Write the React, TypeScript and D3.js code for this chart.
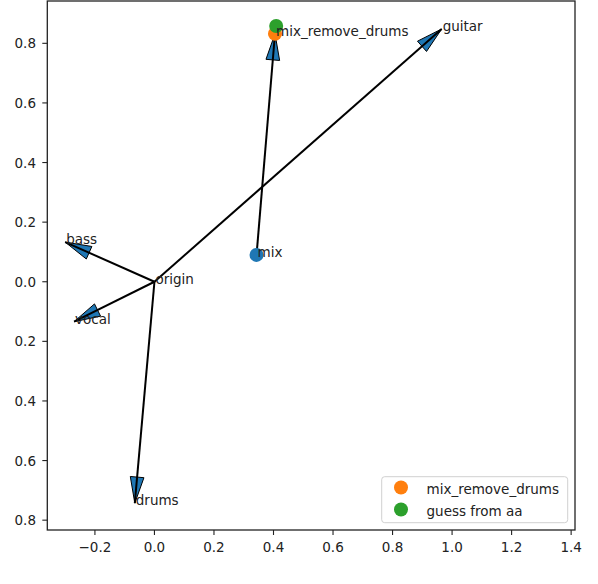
import React from "react";
import * as d3 from "d3";

// ---- data ----
const originPoint = [0, 0];
const vectorNames = ["bass", "vocal", "drums", "guitar"];
const vectorX = [-0.3, -0.27, -0.066, 0.965];
const vectorY = [0.133, -0.134, -0.743, 0.848];
const mixPoint = [0.343, 0.09];
const mixRemovePoint = [0.405, 0.832];
const guessPoint = [0.409, 0.858];
const xTicks = [-0.2, 0, 0.2, 0.4, 0.6, 0.8, 1.0, 1.2, 1.4];
const xTickLabels = ["\u22120.2", "0.0", "0.2", "0.4", "0.6", "0.8", "1.0", "1.2", "1.4"];
const yTicks = [0.8, 0.6, 0.4, 0.2, 0, -0.2, -0.4, -0.6, -0.8];
const yTickLabels = ["0.8", "0.6", "0.4", "0.2", "0.0", "0.2", "0.4", "0.6", "0.8"];
const legendLabels = ["mix_remove_drums", "guess from aa"];

const W = 598;
const H = 584;
const FONT = "'DejaVu Sans', sans-serif";
const FS = 13.5;
const BLUE = "#1f77b4";
const ORANGE = "#ff7f0e";
const GREEN = "#2ca02c";

export default function App() {
  const x = d3.scaleLinear().domain([-0.36, 1.413]).range([47.3, 575]);
  const y = d3.scaleLinear().domain([-0.833, 0.942]).range([530, 1]);
  const headLen = 0.088 * (x(1) - x(0));
  const headW = 0.046 * (x(1) - x(0));

  const arrows: { sx: number; sy: number; ex: number; ey: number }[] = [];
  vectorNames.forEach((_, i) => {
    arrows.push({ sx: x(originPoint[0]), sy: y(originPoint[1]), ex: x(vectorX[i]), ey: y(vectorY[i]) });
  });
  arrows.push({ sx: x(mixPoint[0]), sy: y(mixPoint[1]), ex: x(mixRemovePoint[0]), ey: y(mixRemovePoint[1]) });

  const headPath = (a: { sx: number; sy: number; ex: number; ey: number }) => {
    const dx = a.ex - a.sx;
    const dy = a.ey - a.sy;
    const len = Math.hypot(dx, dy);
    const ux = dx / len;
    const uy = dy / len;
    const bx = a.ex - ux * headLen;
    const by = a.ey - uy * headLen;
    const px = -uy * headW / 2;
    const py = ux * headW / 2;
    return `M${a.ex},${a.ey}L${bx + px},${by + py}L${bx - px},${by - py}Z`;
  };

  const labels = [
    { t: "origin", px: originPoint[0], py: originPoint[1] },
    ...vectorNames.map((n, i) => ({ t: n, px: vectorX[i], py: vectorY[i] })),
    { t: "mix", px: mixPoint[0], py: mixPoint[1] },
    { t: "mix_remove_drums", px: mixRemovePoint[0], py: mixRemovePoint[1] },
  ];

  return (
    <svg
      width={W}
      height={H}
      style={{ position: "absolute", left: 0, top: 0, background: "#fff" }}
      fontFamily={FONT}
    >
      <rect x={0} y={0} width={W} height={H} fill="#fff" />
      {/* arrows */}
      {arrows.map((a, i) => (
        <g key={"a" + i}>
          <path d={headPath(a)} fill={BLUE} stroke="#000" strokeWidth={1} strokeLinejoin="miter" />
          <line x1={a.sx} y1={a.sy} x2={a.ex} y2={a.ey} stroke="#000" strokeWidth={2} />
        </g>
      ))}
      {/* points */}
      <circle cx={x(mixPoint[0])} cy={y(mixPoint[1])} r={7} fill={BLUE} />
      <circle cx={x(mixRemovePoint[0])} cy={y(mixRemovePoint[1])} r={7} fill={ORANGE} />
      <circle cx={x(guessPoint[0])} cy={y(guessPoint[1])} r={7} fill={GREEN} />
      {/* labels */}
      {labels.map((l, i) => (
        <text key={"l" + i} x={x(l.px) + 1} y={y(l.py) + 2} fontSize={FS} fill="#222">
          {l.t}
        </text>
      ))}
      {/* frame */}
      <rect x={47.3} y={1} width={575 - 47.3} height={529} fill="none" stroke="#222" strokeWidth={1.3} />
      {/* x ticks */}
      {xTicks.map((t, i) => (
        <g key={"x" + i}>
          <line x1={x(t)} x2={x(t)} y1={530} y2={535} stroke="#222" strokeWidth={1.1} />
          <text x={x(t)} y={552} textAnchor="middle" fontSize={FS} fill="#222">
            {xTickLabels[i]}
          </text>
        </g>
      ))}
      {/* y ticks */}
      {yTicks.map((t, i) => (
        <g key={"y" + i}>
          <line x1={42.3} x2={47.3} y1={y(t)} y2={y(t)} stroke="#222" strokeWidth={1.1} />
          <text x={36} y={y(t) + 5} textAnchor="end" fontSize={FS} fill="#222">
            {yTickLabels[i]}
          </text>
        </g>
      ))}
      {/* legend */}
      <rect x={381.7} y={476.7} width={186} height={46} rx={3} fill="#fff" fillOpacity={0.8} stroke="#d0d0d0" strokeWidth={1} />
      {legendLabels.map((lab, i) => (
        <g key={"lg" + i}>
          <circle cx={401} cy={487.5 + i * 22} r={7} fill={i === 0 ? ORANGE : GREEN} />
          <text x={426.5} y={494 + i * 21.5} fontSize={FS} fill="#222">
            {lab}
          </text>
        </g>
      ))}
    </svg>
  );
}
